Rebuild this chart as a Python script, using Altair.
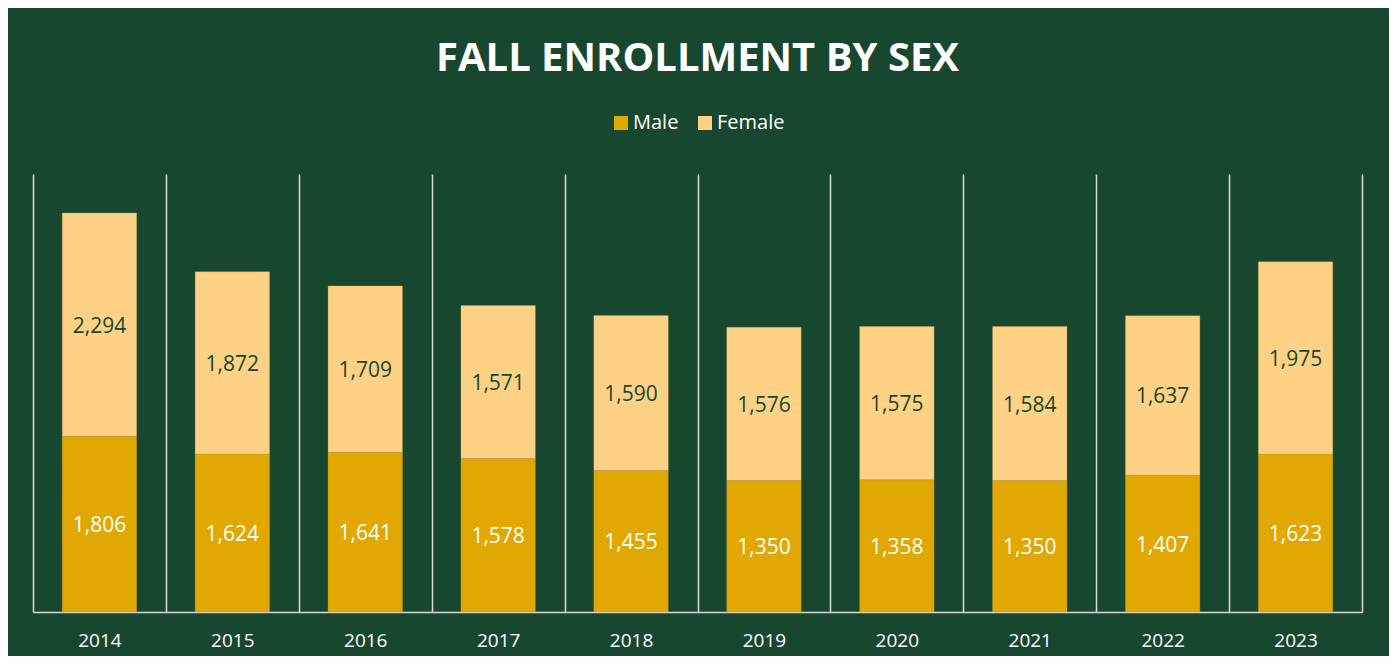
import altair as alt
import pandas as pd

years = ["2014", "2015", "2016", "2017", "2018", "2019", "2020", "2021", "2022", "2023"]
male = [1806, 1624, 1641, 1578, 1455, 1350, 1358, 1350, 1407, 1623]
female = [2294, 1872, 1709, 1571, 1590, 1576, 1575, 1584, 1637, 1975]
series = ["Male", "Female"]
colors = ["#E0A800", "#FFD185"]

BG = "#18472F"

rows = []
for y, m, f in zip(years, male, female):
    rows.append({"year": y, "sex": "Male", "value": m, "ord": 0})
    rows.append({"year": y, "sex": "Female", "value": f, "ord": 1})
df = pd.DataFrame(rows)

xenc = alt.X(
    "year:N",
    sort=years,
    scale=alt.Scale(paddingInner=0, paddingOuter=0),
    axis=alt.Axis(
        title=None,
        ticks=False,
        grid=True,
        tickBand="extent",
        gridColor="#D9D9D9",
        gridWidth=1.5,
        domainColor="#D9D9D9",
        domainWidth=1.5,
        labelColor="white",
        labelFont="Open Sans",
        labelFontSize=19,
        labelPadding=19,
        labelAngle=0,
    ),
)

base = alt.Chart(df)

bars = base.mark_bar(width=alt.RelativeBandSize(0.56), stroke="#C89A3A", strokeWidth=0.5, strokeOpacity=0.6).encode(
    x=xenc,
    y=alt.Y("value:Q", stack="zero", scale=alt.Scale(domain=[0, 4500]), axis=None),
    color=alt.Color(
        "sex:N",
        scale=alt.Scale(domain=series, range=colors),
        legend=alt.Legend(
            title=None,
            orient="none",
            direction="horizontal",
            legendX=578,
            legendY=-61,
            symbolType="square",
            symbolSize=196,
            symbolStrokeWidth=0,
            symbolOpacity=1,
            labelColor="white",
            labelFont="Open Sans",
            labelFontSize=20,
            labelOffset=2,
            columnPadding=16,
        ),
    ),
    order=alt.Order("ord:Q"),
)

labels = (
    base.transform_stack(
        stack="value", groupby=["year"], sort=[alt.SortField("ord")], as_=["y0", "y1"]
    )
    .transform_calculate(mid="(datum.y0 + datum.y1) / 2")
    .mark_text(font="Open Sans", fontSize=21, baseline="middle", align="center", dy=2)
    .encode(
        x=alt.X("year:N", sort=years),
        y=alt.Y("mid:Q"),
        text=alt.Text("value:Q", format=","),
        color=alt.condition(alt.datum.sex == "Male", alt.value("white"), alt.value(BG)),
    )
)

chart = (
    alt.layer(bars, labels)
    .properties(
        width=1329,
        height=438,
        padding={"left": 25, "top": 166, "right": 27, "bottom": 44},
        autosize=alt.AutoSizeParams(type="none"),
        background=BG,
        title=alt.TitleParams(
            "FALL ENROLLMENT BY SEX",
            font="Open Sans",
            fontSize=40,
            fontWeight="bold",
            color="white",
            anchor="middle",
            frame="group",
            baseline="alphabetic",
            offset=2,
        ),
    )
    .configure_view(stroke=None)
)

chart.save("out.html", embed_options={"renderer": "svg", "actions": False})
